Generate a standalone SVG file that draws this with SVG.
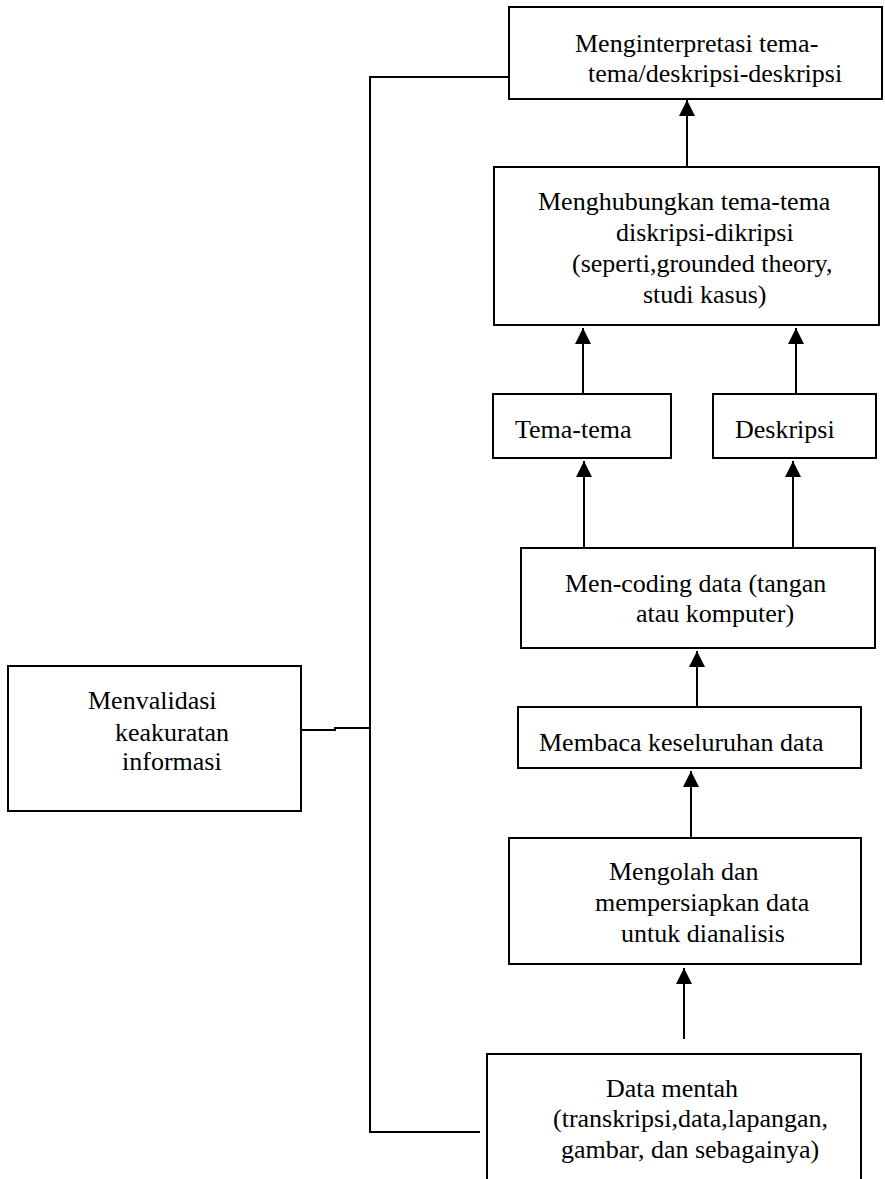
<svg xmlns="http://www.w3.org/2000/svg" width="885" height="1179" viewBox="0 0 885 1179">
<style>
.box{fill:#fff;stroke:#000;stroke-width:2}
.ln{fill:none;stroke:#000;stroke-width:2}
.t{font-family:"Liberation Serif","Times New Roman",serif;font-size:26px;fill:#000}
</style>
<defs>
<marker id="ah" markerUnits="userSpaceOnUse" markerWidth="16" markerHeight="16" viewBox="0 0 16 16" refX="16" refY="8" orient="auto">
<path d="M0,0 L16,8 L0,16 z" fill="#000"/>
</marker>
</defs>
<rect width="885" height="1179" fill="#fff"/>
<g id="connectors">
<path class="ln" d="M509,77 H370 V1132 H480"/>
<path class="ln" d="M301,730 H335 V728 H370"/>
<line class="ln" x1="687" y1="166" x2="687" y2="100" marker-end="url(#ah)"/>
<line class="ln" x1="583" y1="394" x2="583" y2="328" marker-end="url(#ah)"/>
<line class="ln" x1="796" y1="394" x2="796" y2="328" marker-end="url(#ah)"/>
<line class="ln" x1="584" y1="547" x2="584" y2="461" marker-end="url(#ah)"/>
<line class="ln" x1="793" y1="547" x2="793" y2="461" marker-end="url(#ah)"/>
<line class="ln" x1="697" y1="707" x2="697" y2="651" marker-end="url(#ah)"/>
<line class="ln" x1="691" y1="838" x2="691" y2="771" marker-end="url(#ah)"/>
<line class="ln" x1="684" y1="1039" x2="684" y2="968" marker-end="url(#ah)"/>
</g>
<g id="interpretasi">
<rect class="box" x="509" y="7" width="373" height="92"/>
<text class="t" x="575" y="52">Menginterpretasi tema-</text>
<text class="t" x="588" y="82">tema/deskripsi-deskripsi</text>
</g>
<g id="menghubungkan">
<rect class="box" x="494" y="167" width="385" height="158"/>
<text class="t" x="538" y="210">Menghubungkan tema-tema</text>
<text class="t" x="616" y="241">diskripsi-dikripsi</text>
<text class="t" x="572" y="272">(seperti,grounded theory,</text>
<text class="t" x="643" y="303">studi kasus)</text>
</g>
<g id="tema">
<rect class="box" x="493" y="394" width="178" height="64"/>
<text class="t" x="515" y="438">Tema-tema</text>
</g>
<g id="deskripsi">
<rect class="box" x="713" y="394" width="163" height="64"/>
<text class="t" x="735" y="438">Deskripsi</text>
</g>
<g id="mencoding">
<rect class="box" x="521" y="548" width="354" height="100"/>
<text class="t" x="565" y="592">Men-coding data (tangan</text>
<text class="t" x="636" y="622">atau komputer)</text>
</g>
<g id="membaca">
<rect class="box" x="518" y="707" width="343" height="61"/>
<text class="t" x="539" y="751">Membaca keseluruhan data</text>
</g>
<g id="mengolah">
<rect class="box" x="509" y="838" width="352" height="126"/>
<text class="t" x="609" y="880">Mengolah dan</text>
<text class="t" x="595" y="911">mempersiapkan data</text>
<text class="t" x="621" y="942">untuk dianalisis</text>
</g>
<g id="datamentah">
<rect class="box" x="487" y="1054" width="374" height="140"/>
<text class="t" x="606" y="1097">Data mentah</text>
<text class="t" x="553" y="1127">(transkripsi,data,lapangan,</text>
<text class="t" x="561" y="1158">gambar, dan sebagainya)</text>
</g>
<g id="menvalidasi">
<rect class="box" x="8" y="666" width="293" height="145"/>
<text class="t" x="88" y="709">Menvalidasi</text>
<text class="t" x="115" y="741">keakuratan</text>
<text class="t" x="122" y="770">informasi</text>
</g>
</svg>
